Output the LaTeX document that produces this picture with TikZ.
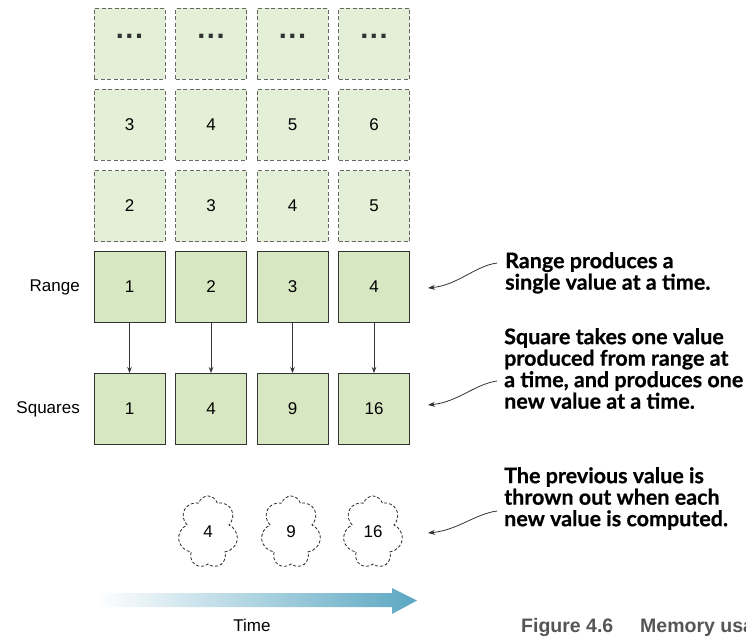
\documentclass[tikz,border=0pt]{standalone}
\usepackage{fontspec}
\setmainfont{Liberation Sans}
\newfontfamily\notefont[BoldFeatures={FakeBold=0.6}]{Lato}
\usetikzlibrary{shapes.symbols,arrows.meta}
\definecolor{boxfill}{HTML}{D6E7C1}
\definecolor{ghostfill}{HTML}{E4EFD7}
\definecolor{timeblue}{HTML}{5BA7C2}
\definecolor{capgray}{HTML}{555555}
\definecolor{linegray}{HTML}{333333}
\begin{document}
\begin{tikzpicture}[x=1pt,y=-1pt,
  solidbox/.style={draw=linegray, fill=boxfill, line width=1pt, minimum width=71pt, minimum height=71pt, inner sep=0pt, font=\fontsize{17}{20}\selectfont},
  ghostbox/.style={solidbox, draw=black!60, fill=ghostfill, dash pattern=on 4pt off 2.5pt},
  dotstext/.style={font=\fontsize{29}{29}\selectfont\bfseries, text=linegray, inner sep=0pt},
  rowlabel/.style={anchor=east, inner sep=0pt, font=\fontsize{17}{20}\selectfont},
  flow/.style={draw=linegray, line width=0.8pt, -{Stealth[length=6pt,width=4.5pt]}},
  gone/.style={cloud, cloud puffs=7, cloud puff arc=150, aspect=0.85, draw=black!85, line width=0.8pt, dash pattern=on 3pt off 2pt, minimum width=60pt, minimum height=72pt, inner sep=0pt, font=\fontsize{17}{20}\selectfont},
  note/.style={anchor=north west, inner sep=0pt, align=left, font=\notefont\bfseries\fontsize{21.5}{21.5}\selectfont, text=black},
  notearrow/.style={draw=linegray, line width=0.8pt, -{Stealth[length=7pt,width=5pt]}},
  captext/.style={font=\fontsize{19.5}{20}\selectfont\bfseries, text=capgray, inner sep=0pt, anchor=base west},
]
\useasboundingbox (0,0) rectangle (746,635);

% ghost rows
\foreach \c/\x in {1/129.5,2/211,3/292.5,4/374}{
  \node[ghostbox] (D\c) at (\x,43.5) {};
  \node[dotstext, anchor=base] (Dt\c) at ([yshift=5pt]D\c.center) {.\kern1.5pt.\kern1.5pt.};
}
\foreach \c/\x/\v in {1/129.5/3,2/211/4,3/292.5/5,4/374/6}{
  \node[ghostbox] (G\c) at (\x,124.5) {\v};
}
\foreach \c/\x/\v in {1/129.5/2,2/211/3,3/292.5/4,4/374/5}{
  \node[ghostbox] (H\c) at (\x,206) {\v};
}
% range and squares
\foreach \c/\x/\v in {1/129.5/1,2/211/2,3/292.5/3,4/374/4}{
  \node[solidbox] (R\c) at (\x,287) {\v};
}
\foreach \c/\x/\v in {1/129.5/1,2/211/4,3/292.5/9,4/374/16}{
  \node[solidbox] (S\c) at (\x,409) {\v};
  \draw[flow] (R\c) -- (S\c);
}
\node[rowlabel] (rangelbl) at (80,287) {Range};
\node[rowlabel] (sqlbl) at (80,409) {Squares};

% discarded values
\node[gone] (C1) at (208,532) {4};
\node[gone] (C2) at (291,532) {9};
\node[gone] (C3) at (373,532) {16};

% notes
\node[note] (N1) at (505,252) {Range produces a\\single value at a time.};
\node[note] (N2) at (504,328) {Square takes one value\\produced from range at\\a time, and produces one\\new value at a time.};
\node[note] (N3) at (504,467) {The previous value is\\thrown out when each\\new value is computed.};

\coordinate (N1s) at (497,263);
\coordinate (N1e) at (428,288);
\coordinate (N2s) at (497,381);
\coordinate (N2e) at (428,405);
\coordinate (N3s) at (497,511);
\coordinate (N3e) at (428,533);
\draw[notearrow] (N1s) .. controls (475,266) and (458,285) .. (N1e);
\draw[notearrow] (N2s) .. controls (475,384) and (458,402) .. (N2e);
\draw[notearrow] (N3s) .. controls (475,514) and (458,530) .. (N3e);

% time arrow
\shade[left color=white, right color=timeblue] (97,593) -- (392,593) -- (392,588) -- (417,600.5) -- (392,614) -- (392,607) -- (97,607) -- cycle;
\node[font=\fontsize{17}{20}\selectfont, inner sep=0pt, anchor=base] (timelbl) at (252,631) {Time};

% caption (cut off at the right edge, as in the reference)
\node[captext] (cap1) at (521,632) {Figure 4.6};
\node[captext] (cap2) at (640,632) {Memory usa};
\end{tikzpicture}
\end{document}
